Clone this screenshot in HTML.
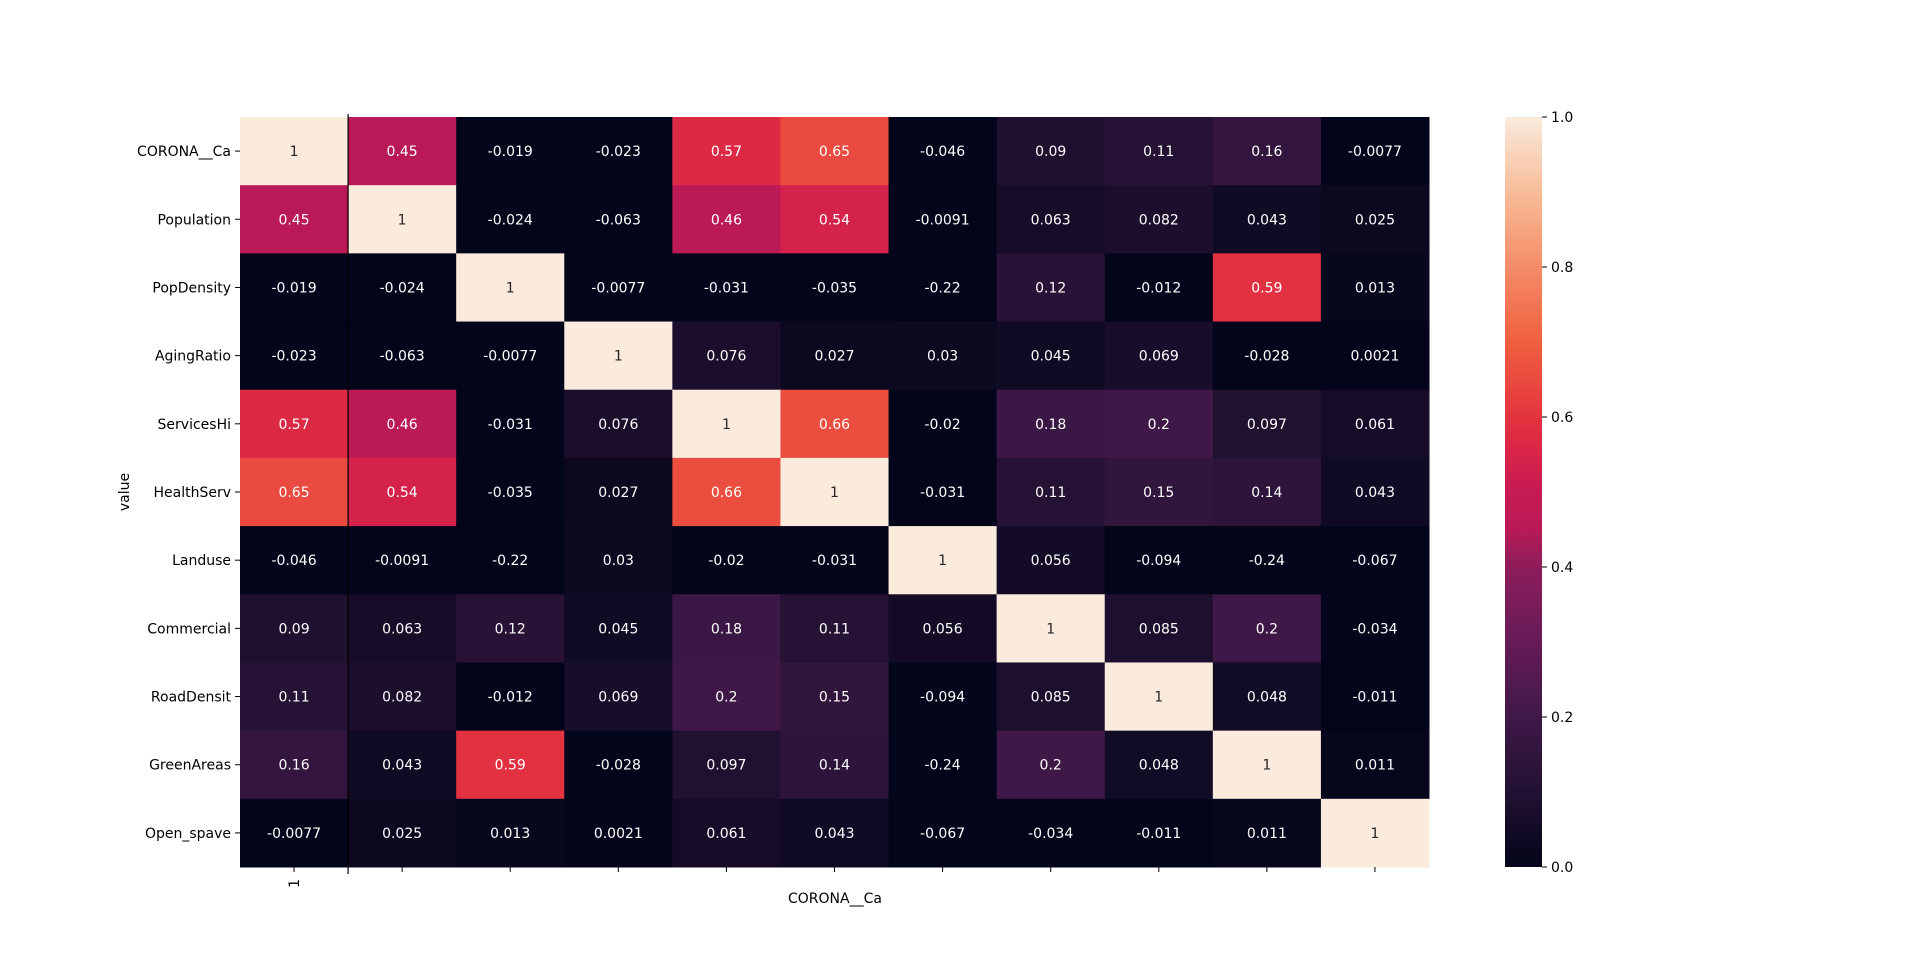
<!DOCTYPE html>
<html><head><meta charset="utf-8"><style>
body{margin:0;background:#fff;}
svg text{font-family:"DejaVu Sans","Liberation Sans",sans-serif;font-size:14px;}
</style></head><body>
<svg id="chart" width="1920" height="975" xmlns="http://www.w3.org/2000/svg">
<defs><linearGradient id="cbg" x1="0" y1="1" x2="0" y2="0"></linearGradient></defs>
<g id="cells"></g><g id="axes"></g><g id="cbar"></g>
</svg>
<script>
const labels=["CORONA__Ca","Population","PopDensity","AgingRatio","ServicesHi","HealthServ","Landuse","Commercial","RoadDensit","GreenAreas","Open_spave"];
const row0=[1,0.45,-0.019,-0.023,0.57,0.65,-0.046,0.09,0.11,0.16,-0.0077];
const row1=[0.45,1,-0.024,-0.063,0.46,0.54,-0.0091,0.063,0.082,0.043,0.025];
const row2=[-0.019,-0.024,1,-0.0077,-0.031,-0.035,-0.22,0.12,-0.012,0.59,0.013];
const row3=[-0.023,-0.063,-0.0077,1,0.076,0.027,0.03,0.045,0.069,-0.028,0.0021];
const row4=[0.57,0.46,-0.031,0.076,1,0.66,-0.02,0.18,0.2,0.097,0.061];
const row5=[0.65,0.54,-0.035,0.027,0.66,1,-0.031,0.11,0.15,0.14,0.043];
const row6=[-0.046,-0.0091,-0.22,0.03,-0.02,-0.031,1,0.056,-0.094,-0.24,-0.067];
const row7=[0.09,0.063,0.12,0.045,0.18,0.11,0.056,1,0.085,0.2,-0.034];
const row8=[0.11,0.082,-0.012,0.069,0.2,0.15,-0.094,0.085,1,0.048,-0.011];
const row9=[0.16,0.043,0.59,-0.028,0.097,0.14,-0.24,0.2,0.048,1,0.011];
const row10=[-0.0077,0.025,0.013,0.0021,0.061,0.043,-0.067,-0.034,-0.011,0.011,1];
const matrix=[row0,row1,row2,row3,row4,row5,row6,row7,row8,row9,row10];
const cbTicks=[0,0.2,0.4,0.6,0.8,1.0];
const cbTickLabels=["0.0","0.2","0.4","0.6","0.8","1.0"];

const L=240,R=1429,T=117,B=867,n=labels.length;
const cw=(R-L)/n,ch=(B-T)/n;
const xs=i=>L+i*cw, ys=i=>T+i*ch;
const stops=[[0,[3,5,26]],[0.1,[34,17,50]],[0.2,[64,24,72]],[0.3,[102,27,88]],[0.4,[142,28,90]],[0.45,[185,26,87]],[0.5,[198,26,82]],[0.55,[216,36,72]],[0.6,[228,52,62]],[0.7,[240,95,64]],[0.8,[245,140,104]],[0.9,[247,188,152]],[1,[250,235,221]]];
function cmap(v){v=Math.max(0,Math.min(1,v));for(let i=1;i<stops.length;i++){if(v<=stops[i][0]){const[a,ca]=stops[i-1],[b,cb]=stops[i];const t=(v-a)/(b-a);return `rgb(${ca.map((c,k)=>Math.round(c+(cb[k]-c)*t)).join(',')})`;}}return 'rgb(250,235,221)';}
const NS="http://www.w3.org/2000/svg";
function mk(tag,attrs,parent,txt){const e=document.createElementNS(NS,tag);for(const k in attrs)e.setAttribute(k,attrs[k]);if(txt!==undefined)e.textContent=txt;parent.appendChild(e);return e;}
const cells=document.getElementById('cells'),axes=document.getElementById('axes'),cbar=document.getElementById('cbar');
matrix.forEach((row,r)=>row.forEach((v,c)=>{
 const rect=mk('rect',{x:xs(c),y:ys(r),width:cw+0.5,height:ch+0.5,fill:cmap(v)},cells);
 
 
 const t=mk('text',{x:xs(c)+cw/2,y:ys(r)+ch/2+5,'text-anchor':'middle',fill:v>0.8?'#262626':'#fff'},cells,String(v));
 
 
}));
const vl=mk('line',{x1:xs(1),x2:xs(1),y1:T-3,y2:B+7,stroke:'#000','stroke-width':1.2},axes);


labels.forEach((lab,i)=>{
 const y=ys(i)+ch/2;
 mk('line',{x1:L-5,x2:L,y1:y,y2:y,stroke:'#000'},axes);
 const t=mk('text',{x:L-9,y:y+5,'text-anchor':'end',fill:'#000'},axes,lab);
 
 
 const x=xs(i)+cw/2;
 mk('line',{x1:x,x2:x,y1:B,y2:B+5,stroke:'#000'},axes);
});
const one=mk('text',{x:0,y:0,transform:`translate(${xs(0)+cw/2+5},${B+12}) rotate(-90)`,'text-anchor':'end',fill:'#000'},axes,'1');


const xt=mk('text',{x:835,y:903,'text-anchor':'middle',fill:'#000'},axes,'CORONA__Ca');


const yt=mk('text',{x:0,y:0,transform:'translate(129,492) rotate(-90)','text-anchor':'middle',fill:'#000'},axes,'value');


const CL=1505,CR=1542;
const grad=document.getElementById('cbg');
for(let i=0;i<=40;i++){mk('stop',{offset:(i/40),'stop-color':cmap(i/40)},grad);}
const cb=mk('rect',{x:CL,y:T,width:CR-CL,height:B-T,fill:'url(#cbg)'},cbar);


cbTicks.forEach((v,i)=>{
 const y=B-(B-T)*v;
 mk('line',{x1:CR,x2:CR+5,y1:y,y2:y,stroke:'#000'},cbar);
 const t=mk('text',{x:CR+9,y:y+5,fill:'#000'},cbar,cbTickLabels[i]);
 
 
});
</script>
</body></html>
